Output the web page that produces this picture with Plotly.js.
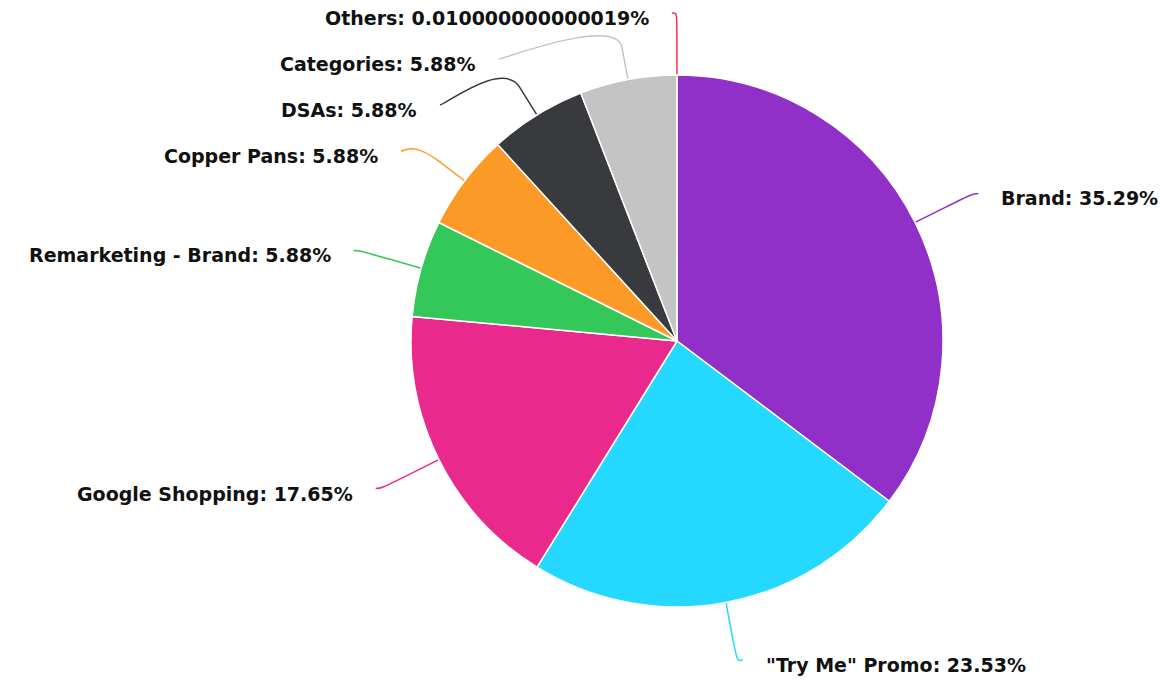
<!DOCTYPE html>
<html><head><meta charset="utf-8">
<script src="https://cdn.plot.ly/plotly-3.0.1.min.js"></script>
<style>html,body{margin:0;padding:0;background:#fff}#chart{width:1160px;height:683px}</style>
</head><body><div id="chart"></div>
<script>
const categories = ['Brand', '"Try Me" Promo', 'Google Shopping', 'Remarketing - Brand', 'Copper Pans', 'DSAs', 'Categories', 'Others'];
const shares = [35.29, 23.53, 17.65, 5.88, 5.88, 5.88, 5.88, 0.01];
const shareLabels = ['35.29', '23.53', '17.65', '5.88', '5.88', '5.88', '5.88', '0.010000000000019'];
const colors = ['#9030C8', '#24D8FF', '#E9298C', '#34C759', '#FC9A28', '#383A3E', '#C4C4C4', '#FF2D55'];

// layout constants (pixels)
const W = 1160, H = 683, CX = 677, CY = 341, R = 266, DIST = 65, GAP = 21, PAD = 5, STEP = 46, TOP = 18, BOTTOM = 665, YOFF = 5;
const R2 = R + DIST;

const px = x => x / W;
const py = y => 1 - y / H;

const total = shares.reduce((a, b) => a + b, 0);
let cum = 0;
const items = shares.map((v, i) => {
  const mid = (cum + v / 2) / total * 2 * Math.PI;
  cum += v;
  const left = mid > Math.PI;
  const natEndY = CY - R2 * Math.cos(mid);
  return {i, mid, left, natEndY, target: natEndY + YOFF};
});

function distribute(list) {
  list.sort((a, b) => a.target - b.target);
  const clusters = list.map(it => ({items: [it], start: 0}));
  const place = c => {
    const n = c.items.length;
    const mean = c.items.reduce((s, it) => s + it.target, 0) / n;
    let start = mean - (n - 1) * STEP / 2;
    start = Math.max(TOP, Math.min(start, BOTTOM - (n - 1) * STEP));
    c.start = start;
  };
  clusters.forEach(place);
  let merged = true;
  while (merged) {
    merged = false;
    for (let k = 0; k < clusters.length - 1; k++) {
      const a = clusters[k], b = clusters[k + 1];
      if (a.start + a.items.length * STEP > b.start + 0.01) {
        a.items = a.items.concat(b.items);
        clusters.splice(k + 1, 1);
        place(a);
        merged = true;
        break;
      }
    }
  }
  clusters.forEach(c => c.items.forEach((it, k) => { it.y = c.start + k * STEP; }));
}
distribute(items.filter(it => it.left));
distribute(items.filter(it => !it.left));

const annotations = [], shapes = [];
items.forEach(it => {
  const s = it.left ? -1 : 1;
  const clamped = it.y <= TOP + 0.5 || it.y >= BOTTOM - 0.5;
  const endY = it.y - YOFF;
  const yForX = clamped ? it.natEndY : endY;
  const dy = Math.max(-R2, Math.min(R2, yForX - CY));
  const endX = CX + s * Math.sqrt(R2 * R2 - dy * dy) + s * PAD;
  const sin = Math.sin(it.mid), cos = Math.cos(it.mid);
  const bx = CX + (R + DIST / 2) * sin, by = CY - (R + DIST / 2) * cos;
  const tx = CX + R * sin, ty = CY - R * cos;
  const c1x = endX - s * 5, c1y = endY;
  const c2x = 2 * bx - tx, c2y = 2 * by - ty;
  const path = `M ${px(endX)} ${py(endY)} C ${px(c1x)} ${py(c1y)}, ${px(c2x)} ${py(c2y)}, ${px(bx)} ${py(by)} L ${px(tx)} ${py(ty)}`;
  shapes.push({type: 'path', xref: 'paper', yref: 'paper', path, line: {color: colors[it.i], width: 1.5}, layer: 'below'});
  annotations.push({
    xref: 'paper', yref: 'paper', x: px(endX + s * GAP), y: py(it.y),
    xanchor: it.left ? 'right' : 'left', yanchor: 'middle', showarrow: false,
    text: '<b>' + categories[it.i] + ': ' + shareLabels[it.i] + '%</b>',
    font: {family: 'DejaVu Sans, sans-serif', size: 19, color: '#111'}
  });
});

const trace = {
  type: 'pie',
  labels: categories,
  values: shares,
  sort: false,
  direction: 'clockwise',
  rotation: 0,
  textinfo: 'none',
  hoverinfo: 'skip',
  marker: {colors, line: {color: '#ffffff', width: 1.5}},
  domain: {x: [(CX - R) / W, (CX + R) / W], y: [1 - (CY + R) / H, 1 - (CY - R) / H]},
  showlegend: false
};

Plotly.newPlot('chart', [trace], {
  width: W, height: H,
  margin: {l: 0, r: 0, t: 0, b: 0},
  paper_bgcolor: '#ffffff', plot_bgcolor: '#ffffff',
  showlegend: false,
  annotations, shapes
}, {displayModeBar: false, staticPlot: true});
</script>
</body></html>
